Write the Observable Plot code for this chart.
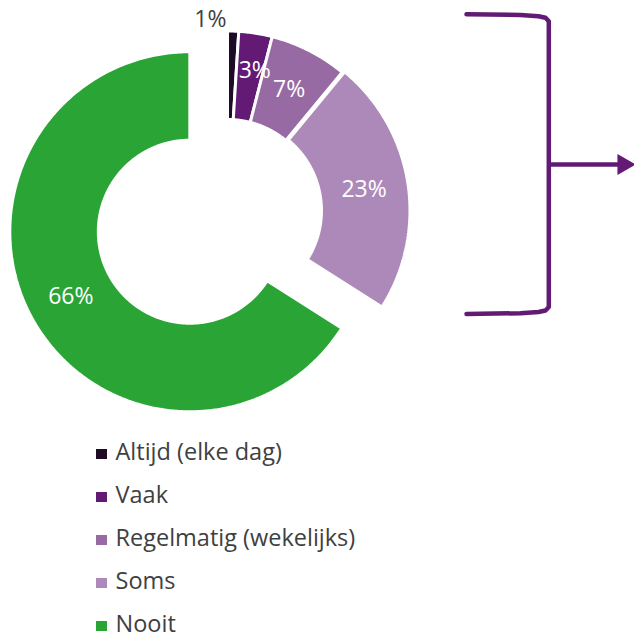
<!DOCTYPE html>
<html>
<head>
<meta charset="utf-8">
<script src="https://cdn.jsdelivr.net/npm/d3@7"></script>
<script src="https://cdn.jsdelivr.net/npm/@observablehq/plot@0.6"></script>
<style>
  html, body { margin: 0; padding: 0; background: #fff; overflow: hidden; }
  #wrap { position: relative; width: 634px; height: 633px; font-family: "Open Sans", Lato, sans-serif; }
  #legend { position: absolute; left: 96px; top: 430px; color: #404040; font-size: 23.5px; }
  .row { line-height: 43px; height: 43px; white-space: nowrap; }
  .sw { display: inline-block; width: 10.5px; height: 10.5px; margin-right: 9px; vertical-align: 1px; }
</style>
</head>
<body>
<div id="wrap">
  <div id="chart"></div>
  <div id="legend"></div>
</div>
<script>
// ---- data ----
const categories = ["Altijd (elke dag)", "Vaak", "Regelmatig (wekelijks)", "Soms", "Nooit"];
const values = [1, 3, 7, 23, 66];
const valueLabels = ["1%", "3%", "7%", "23%", "66%"];
const colors = ["#1e0b26", "#621a75", "#986aa4", "#ad89b9", "#2aa535"];

// ---- geometry (layout settings) ----
const W = 634, H = 432;
const center = {x: 227, y: 210.5};
const Rout = 178.5, Rin = 93, gap = 3;
const explode = {"Soms": 2.5, "Nooit": 43};
const rad = d => d * Math.PI / 180;

const total = d3.sum(values);
let cum = 0;
const slices = categories.map((c, i) => {
  const a0 = cum / total * 360;
  cum += values[i];
  const a1 = cum / total * 360;
  const mid = (a0 + a1) / 2;
  const e = explode[c] || 0;
  const cx = center.x + e * Math.sin(rad(mid));
  const cy = center.y - e * Math.cos(rad(mid));
  return {cat: c, value: values[i], label: valueLabels[i], a0, a1, mid, cx, cy};
});

const pt = (s, a, r) => [s.cx + r * Math.sin(rad(a)), s.cy - r * Math.cos(rad(a))];

const arcPts = [];
for (const s of slices) {
  const ro = Rout + gap / 2, ri = Rin - gap / 2;
  const n = Math.max(4, Math.ceil((s.a1 - s.a0) * 2));
  const ring = [];
  for (let k = 0; k <= n; k++) ring.push(pt(s, s.a0 + (s.a1 - s.a0) * k / n, ro));
  for (let k = n; k >= 0; k--) ring.push(pt(s, s.a0 + (s.a1 - s.a0) * k / n, ri));
  ring.push(ring[0]);
  for (const [x, y] of ring) arcPts.push({cat: s.cat, x, y});
}

// labels: tiny slices get an outside label, others sit mid-ring
const outside = [], inside = [];
for (const s of slices) {
  if (s.value < 2) {
    const [x, y] = pt(s, s.a0, Rout);
    outside.push({label: s.label, x: x - 1, y: y - 13});
  } else {
    const [x, y] = pt(s, s.mid, (Rout + Rin) / 2);
    const nudge = s.value < 5 ? [6, -6] : [0, 0];
    inside.push({label: s.label, x: x + nudge[0], y: y + nudge[1]});
  }
}

// bracket annotation around the exploded part
const bx0 = 466, bx1 = 548.3, by0 = 13.7, by1 = 313.5, byArrow = 164, arrowTip = 634;
const bracket = [
  [bx0, by0], [520, by0 + 0.8], [538, by0 + 2], [545, by0 + 3.5], [bx1, by0 + 7],
  [bx1, by1 - 7], [545, by1 - 3.5], [538, by1 - 2], [520, by1 - 0.8], [bx0, by1]
].map(([x, y]) => ({x, y}));

const purple = "#621a75";
const font = "'Open Sans', Lato, sans-serif";

const plot = Plot.plot({
  width: W, height: H,
  margin: 0,
  x: {domain: [0, W], range: [0, W], axis: null},
  y: {domain: [0, H], range: [0, H], axis: null},
  color: {domain: categories, range: colors},
  style: {fontFamily: font, background: "white"},
  marks: [
    Plot.line(arcPts, {x: "x", y: "y", z: "cat", fill: "cat", stroke: "white", strokeWidth: gap, strokeLinejoin: "miter"}),
    Plot.text(inside, {x: "x", y: "y", text: "label", fill: "white", textAnchor: "middle", fontSize: 23, fontFamily: font}),
    Plot.text(outside, {x: "x", y: "y", text: "label", fill: "#404040", textAnchor: "end", fontSize: 23, fontFamily: font}),
    Plot.line(bracket, {x: "x", y: "y", stroke: purple, strokeWidth: 4.5, curve: "linear"}),
    Plot.link([{x1: bx1, y1: byArrow, x2: arrowTip - 14, y2: byArrow}], {x1: "x1", y1: "y1", x2: "x2", y2: "y2", stroke: purple, strokeWidth: 4.5}),
    Plot.dot([{x: arrowTip - 11, y: byArrow}], {x: "x", y: "y", symbol: "triangle", r: 7.8, fill: purple, stroke: "none", rotate: 90})
  ]
});
document.getElementById("chart").appendChild(plot);

const legend = document.getElementById("legend");
categories.forEach((c, i) => {
  const row = document.createElement("div");
  row.className = "row";
  const sw = document.createElement("span");
  sw.className = "sw";
  sw.style.background = colors[i];
  row.appendChild(sw);
  row.appendChild(document.createTextNode(c));
  legend.appendChild(row);
});
</script>
</body>
</html>
